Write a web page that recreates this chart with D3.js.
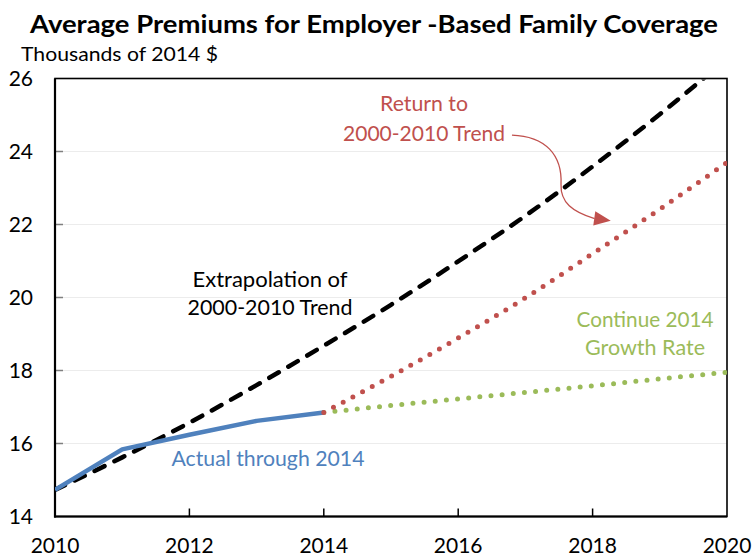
<!DOCTYPE html>
<html>
<head>
<meta charset="utf-8">
<script src="https://cdn.jsdelivr.net/npm/d3@7"></script>
<style>
  html, body { margin: 0; padding: 0; background: #fff; }
  svg { display: block; font-family: Lato, "Open Sans", sans-serif; }
</style>
</head>
<body>
<svg id="chart" width="754" height="558"></svg>
<script>
// ---- data ----
const actualYears = [2010, 2011, 2012, 2013, 2014];
const actualValues = [14.73, 15.84, 16.24, 16.62, 16.85];

const trendYears = [2010, 2011, 2012, 2013, 2014, 2015, 2016, 2017, 2018, 2019, 2020];
const trendValues = [14.73, 15.62, 16.57, 17.6, 18.68, 19.8, 20.99, 22.24, 23.59, 25.02, 26.54];

const returnYears = [2014, 2015, 2016, 2017, 2018, 2019, 2020];
const returnValues = [16.85, 17.84, 18.89, 19.99, 21.2, 22.42, 23.7];

const growthYears = [2014, 2015, 2016, 2017, 2018, 2019, 2020];
const growthValues = [16.85, 17.04, 17.22, 17.40, 17.58, 17.77, 17.95];

const xTicks = [2010, 2012, 2014, 2016, 2018, 2020];
const yTicks = [14, 16, 18, 20, 22, 24, 26];

const chartTitle = "Average Premiums for Employer -Based Family Coverage";
const yUnit = "Thousands of 2014 $";

// ---- layout ----
const svg = d3.select("#chart");
const pL = 55, pR = 727, pT = 78.5, pB = 516.5;
const x = d3.scaleLinear().domain([2010, 2020]).range([pL, pR]);
const y = d3.scaleLinear().domain([14, 26]).range([pB, pT]);

const C = { blue: "#4F81BD", red: "#C0504D", green: "#9BBB59", black: "#000" };

// title
svg.append("text").attr("x", 374).attr("y", 33).attr("text-anchor", "middle")
  .attr("font-weight", "bold").attr("font-size", 25)
  .attr("textLength", 688).attr("lengthAdjust", "spacingAndGlyphs")
  .text(chartTitle);
svg.append("text").attr("x", 21).attr("y", 61).attr("font-size", 19)
  .attr("textLength", 197).attr("lengthAdjust", "spacingAndGlyphs")
  .text(yUnit);

// gridlines
svg.append("g").selectAll("line").data(yTicks.filter(d => d > 14 && d < 26)).join("line")
  .attr("x1", pL).attr("x2", pR).attr("y1", d => y(d)).attr("y2", d => y(d))
  .attr("stroke", "#ececec").attr("stroke-width", 1);

// y tick marks (inside)
svg.append("g").selectAll("line").data(yTicks.filter(d => d > 14 && d < 26)).join("line")
  .attr("x1", pL).attr("x2", pL + 8).attr("y1", d => y(d)).attr("y2", d => y(d))
  .attr("stroke", "#7f7f7f").attr("stroke-width", 1.5);

// x tick marks (inside, upward)
svg.append("g").selectAll("line").data(xTicks.filter(d => d > 2010 && d < 2020)).join("line")
  .attr("x1", d => x(d)).attr("x2", d => x(d)).attr("y1", pB).attr("y2", pB - 8)
  .attr("stroke", "#000").attr("stroke-width", 1.5);

// y tick labels
svg.append("g").selectAll("text").data(yTicks).join("text")
  .attr("x", 33).attr("y", d => y(d)).attr("dy", "0.36em")
  .attr("text-anchor", "end").attr("font-size", 21).text(d => d);

// x tick labels
svg.append("g").selectAll("text").data(xTicks).join("text")
  .attr("x", d => x(d)).attr("y", 553).attr("text-anchor", "middle")
  .attr("font-size", 21).text(d => d);

// frame
svg.append("rect").attr("x", pL).attr("y", pT).attr("width", pR - pL).attr("height", pB - pT)
  .attr("fill", "none").attr("stroke", "#000").attr("stroke-width", 1.6);
svg.append("line").attr("x1", pL).attr("x2", pL).attr("y1", pT).attr("y2", pB + 1)
  .attr("stroke", "#000").attr("stroke-width", 2.2);
svg.append("line").attr("x1", pL - 1).attr("x2", pR).attr("y1", pB).attr("y2", pB)
  .attr("stroke", "#000").attr("stroke-width", 2.2);

// clip
svg.append("clipPath").attr("id", "plot").append("rect")
  .attr("x", pL).attr("y", pT + 1).attr("width", pR - pL).attr("height", pB - pT - 1);

const g = svg.append("g").attr("clip-path", "url(#plot)");
const lineGen = (xs) => d3.line().x((d, i) => x(xs[i])).y(d => y(d)).curve(d3.curveMonotoneX);

// green projection
g.append("path").datum(growthValues).attr("d", lineGen(growthYears))
  .attr("fill", "none").attr("stroke", C.green).attr("stroke-width", 5)
  .attr("stroke-linecap", "round").attr("stroke-dasharray", "0,11.2")
  .attr("stroke-dashoffset", -11.2);

// black trend
g.append("path").datum(trendValues).attr("d", lineGen(trendYears))
  .attr("fill", "none").attr("stroke", C.black).attr("stroke-width", 4.5)
  .attr("stroke-linecap", "round").attr("stroke-dasharray", "11,11");

// blue actual
g.append("path").datum(actualValues)
  .attr("d", d3.line().x((d, i) => x(actualYears[i])).y(d => y(d)))
  .attr("fill", "none").attr("stroke", C.blue).attr("stroke-width", 4.5)
  .attr("stroke-linejoin", "round");

// red projection
g.append("path").datum(returnValues).attr("d", lineGen(returnYears))
  .attr("fill", "none").attr("stroke", C.red).attr("stroke-width", 5)
  .attr("stroke-linecap", "round").attr("stroke-dasharray", "0,11");

// labels
function label(lines, cx, baselines, color, widths) {
  lines.forEach((t, i) => {
    svg.append("text").attr("x", cx).attr("y", baselines[i]).attr("text-anchor", "middle")
      .attr("font-size", 21).attr("fill", color)
      .attr("textLength", widths[i]).attr("lengthAdjust", "spacingAndGlyphs").text(t);
  });
}
label(["Return to", "2000-2010 Trend"], 424, [111, 141], C.red, [88, 162]);
label(["Extrapolation of", "2000-2010 Trend"], 270, [287, 315], C.black, [155, 165]);
label(["Continue 2014", "Growth Rate"], 645, [327, 355], C.green, [137, 120]);
label(["Actual through 2014"], 268, [466], C.blue, [193]);

// curved arrow (anchored in data coordinates)
const pathD = `M${x(2016.80)},${y(24.45)} C${x(2017.3)},${y(24.42)} ${x(2017.55)},${y(23.9)} ${x(2017.53)},${y(23.1)}`
  + ` C${x(2017.52)},${y(22.6)} ${x(2017.7)},${y(22.35)} ${x(2018.03)},${y(22.16)}`;
svg.append("path").attr("d", pathD).attr("fill", "none").attr("stroke", C.red).attr("stroke-width", 1.3);
// arrowhead
svg.append("path")
  .attr("d", `M${x(2018.27)},${y(22.1)} L${x(2018.04)},${y(22.36)} L${x(2018.01)},${y(21.97)} Z`)
  .attr("fill", C.red);
</script>
</body>
</html>
